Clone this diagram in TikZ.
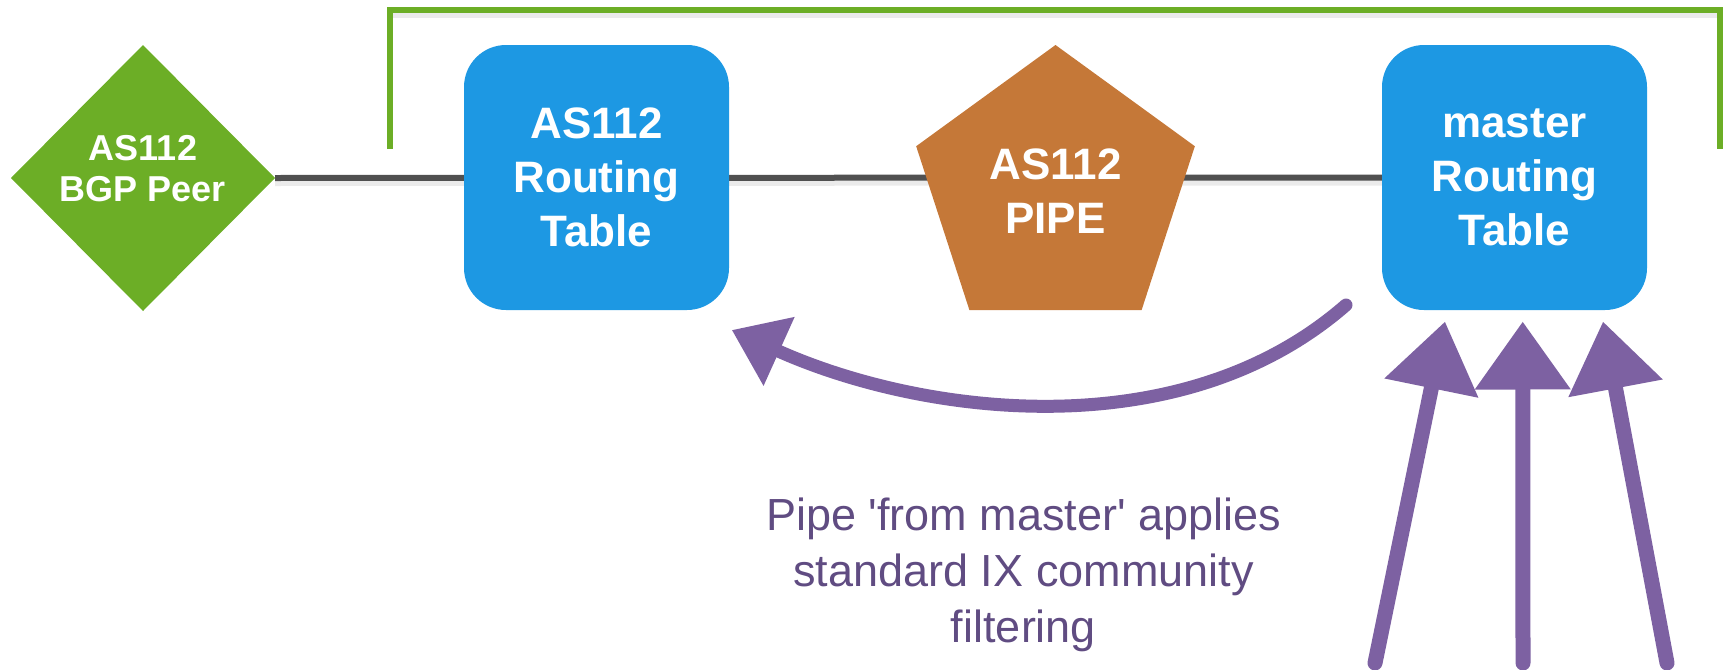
\documentclass[tikz,border=0pt]{standalone}
\usepackage{fontspec}
\setmainfont{Liberation Sans}
\usetikzlibrary{shapes.geometric,arrows.meta,backgrounds}
\definecolor{ixgreen}{RGB}{108,174,38}
\definecolor{ixblue}{RGB}{29,152,227}
\definecolor{ixorange}{RGB}{197,120,56}
\definecolor{ixgray}{RGB}{80,80,80}
\definecolor{ixpurple}{RGB}{125,97,162}
\definecolor{ixtext}{RGB}{96,76,130}
\begin{document}
\begin{tikzpicture}[x=0.5pt,y=-0.5pt,
  rtable/.style={rounded corners=21pt, fill=ixblue, minimum width=132.5pt, minimum height=132.5pt,
    inner sep=0pt, outer sep=0pt, text=white, align=center, font=\fontsize{22pt}{27pt}\selectfont\bfseries},
  pipebox/.style={regular polygon, regular polygon sides=5, minimum size=146.5pt, fill=ixorange,
    inner sep=0pt, outer sep=0pt, text=white, align=center, font=\fontsize{22pt}{27pt}\selectfont\bfseries},
  peerbox/.style={diamond, fill=ixgreen, minimum width=132pt, minimum height=133pt, inner sep=0pt, outer sep=0pt},
  peertext/.style={text=white, align=center, inner sep=0pt, font=\fontsize{18pt}{20.5pt}\selectfont\bfseries},
  link/.style={draw=ixgray, line width=3pt},
  shadowline/.style={draw=black, opacity=0.08, line width=3pt},
  bracket/.style={draw=ixgreen, line width=3pt},
  chalk/.style={draw=ixpurple, line width=7.5pt, line cap=round, -{Triangle[length=34pt,width=46pt]}},
  chalkcurve/.style={draw=ixpurple, line width=6.5pt, line cap=round, -{Triangle[length=26pt,width=36pt]}},
  note/.style={text=ixtext, align=center, inner sep=0pt, font=\fontsize{22.5pt}{28pt}\selectfont}
]
\useasboundingbox (0,0) rectangle (1723,669);

% nodes
\node[peerbox] (peer) at (143,178) {};
\node[peertext] (peerlabel) at ([yshift=4.75pt]peer.center) {AS112\\BGP Peer};
\node[rtable] (rt) at (596.5,177.5) {AS112\\Routing\\Table};
\node[pipebox] (pipe) at (1055.5,191.5) {AS112\\PIPE};
\node[rtable] (master) at (1514.5,177.5) {master\\Routing\\Table};

% gray connection line behind nodes
\begin{pgfonlayer}{background}
  \draw[shadowline] ([yshift=-2.5pt]peer.east) -- ([yshift=-2.5pt]master.west);
  \draw[link] (peer.east) -- (master.west);
\end{pgfonlayer}

% green bracket
\coordinate (bl) at (390,149);
\coordinate (tl) at (390,9.5);
\coordinate (tr) at (1719.5,9.5);
\coordinate (br) at (1719.5,149);
\draw[shadowline] ([yshift=-2.5pt]tl) -- ([yshift=-2.5pt]tr);
\draw[bracket] (bl) -- (tl) -- (tr) -- (br);

% curved arrow from master to AS112 routing table
\draw[chalkcurve] ([xshift=-18pt,yshift=2.5pt]master.south west)
  .. controls (1180,450) and (920,415) .. ([xshift=1.35pt,yshift=-10pt]rt.south east);

% three upward arrows into master
\coordinate (s1) at (1375,663);
\coordinate (s2) at (1523,663);
\coordinate (s3) at (1667,663);
\draw[chalk] (s1) -- ([xshift=-34.75pt,yshift=-5.75pt]master.south);
\draw[chalk] (s2) -- ([xshift=4.1pt,yshift=-5.75pt]master.south);
\draw[chalk] (s3) -- ([xshift=44.25pt,yshift=-5.75pt]master.south);

% note
\node[note, anchor=north] (note) at (1023.5,497) {Pipe \textquotesingle from master\textquotesingle{} applies\\standard IX community\\filtering};
\end{tikzpicture}
\end{document}
